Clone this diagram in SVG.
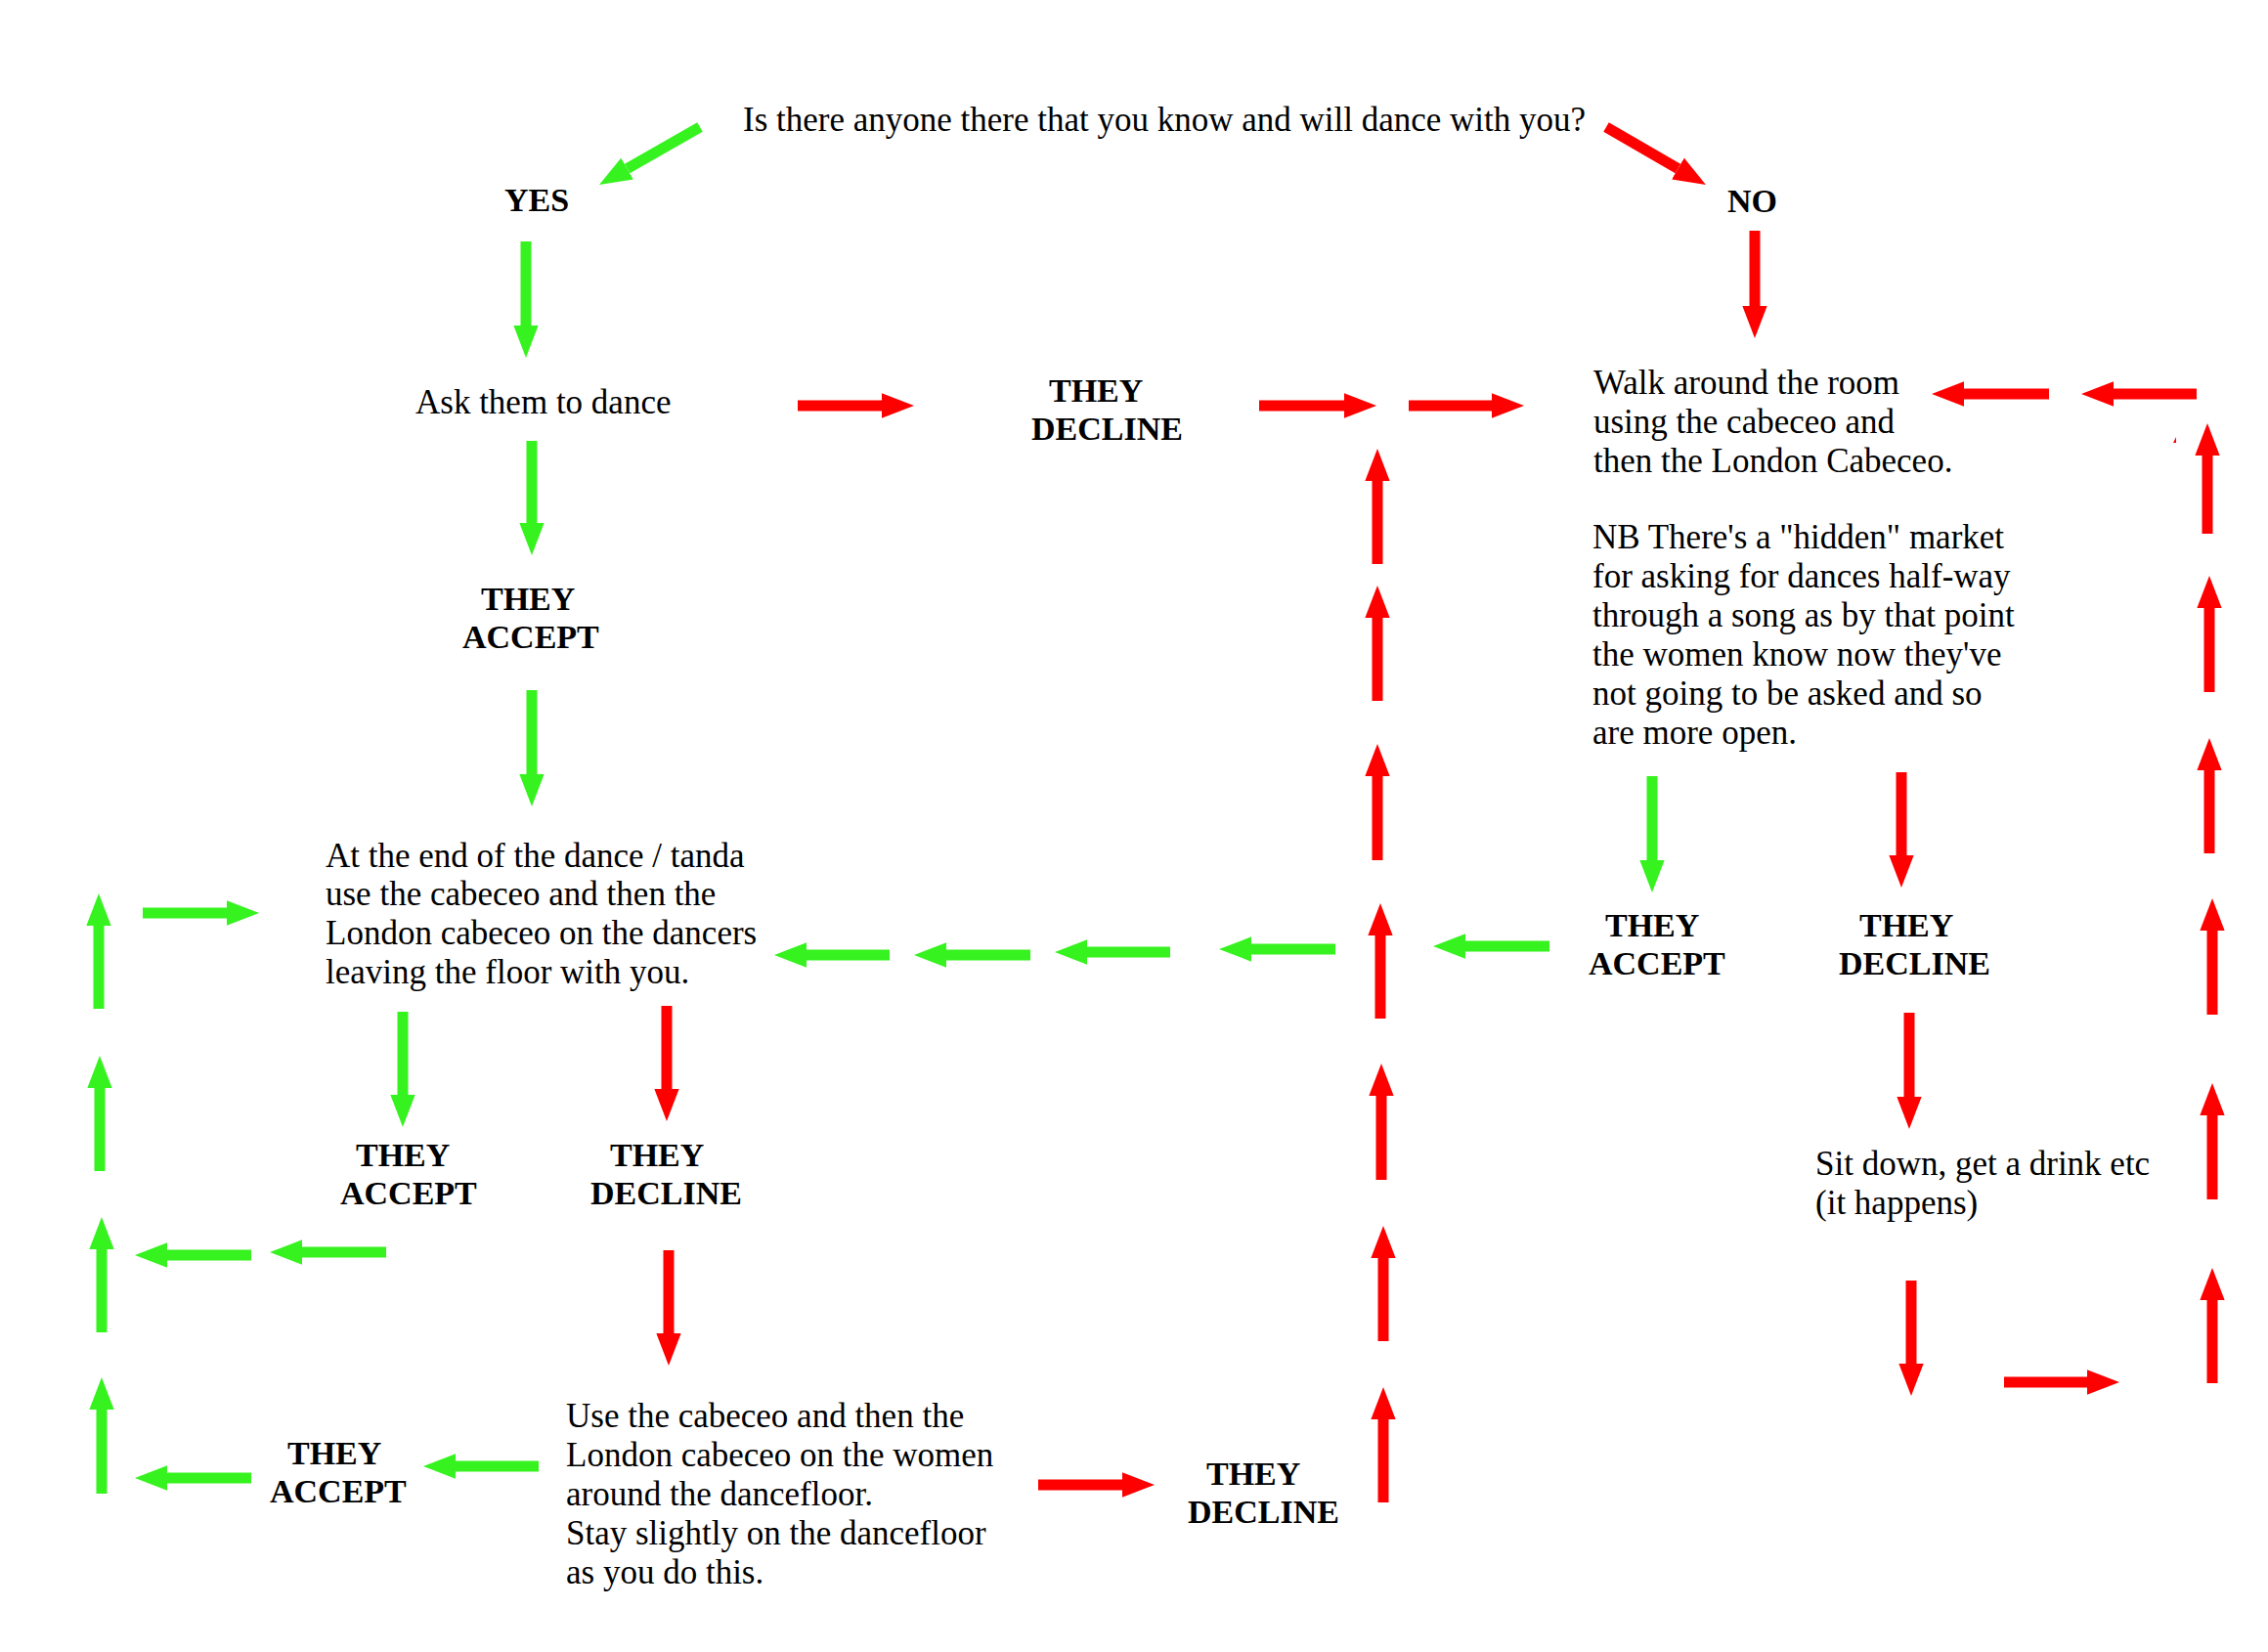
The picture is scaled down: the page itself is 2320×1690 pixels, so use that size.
<svg xmlns="http://www.w3.org/2000/svg" width="2320" height="1690" viewBox="0 0 2320 1690">
<style>
text{font-family:"Liberation Serif","Times New Roman",serif;fill:#000}
.r{font-size:35px}
.b{font-size:34px;font-weight:bold}
.g{stroke:#36f21f;stroke-width:11;fill:none}
.d{stroke:#ff0000;stroke-width:11;fill:none}
.g{marker-end:url(#hg)}
.d{marker-end:url(#hr)}
</style>
<defs>
<marker id="hg" viewBox="0 0 3 2.3" markerWidth="3" markerHeight="2.3" refX="0" refY="1.15" orient="auto" markerUnits="strokeWidth"><path d="M0,0L3,1.15L0,2.3z" fill="#36f21f"/></marker>
<marker id="hr" viewBox="0 0 3 2.3" markerWidth="3" markerHeight="2.3" refX="0" refY="1.15" orient="auto" markerUnits="strokeWidth"><path d="M0,0L3,1.15L0,2.3z" fill="#ff0000"/></marker>
</defs>
<rect width="2320" height="1690" fill="#fff"/>
<g id="connectors">
<line class="g" x1="716" y1="130" x2="641.6" y2="172.6"/>
<line class="g" x1="538" y1="247" x2="538" y2="333"/>
<line class="g" x1="544" y1="451" x2="544" y2="535"/>
<line class="g" x1="544" y1="706" x2="544" y2="792"/>
<line class="g" x1="1585" y1="968" x2="1499" y2="968"/>
<line class="g" x1="1366" y1="971" x2="1280" y2="971"/>
<line class="g" x1="1197" y1="974" x2="1112" y2="974"/>
<line class="g" x1="1054" y1="977" x2="968" y2="977"/>
<line class="g" x1="910" y1="977" x2="825" y2="977"/>
<line class="g" x1="101" y1="1032" x2="101" y2="947"/>
<line class="g" x1="146" y1="934" x2="232" y2="934"/>
<line class="g" x1="102" y1="1198" x2="102" y2="1113"/>
<line class="g" x1="104" y1="1363" x2="104" y2="1278"/>
<line class="g" x1="257" y1="1284" x2="171" y2="1284"/>
<line class="g" x1="395" y1="1281" x2="309" y2="1281"/>
<line class="g" x1="104" y1="1528" x2="104" y2="1442"/>
<line class="g" x1="257" y1="1512" x2="171" y2="1512"/>
<line class="g" x1="551" y1="1500" x2="466" y2="1500"/>
<line class="g" x1="412" y1="1035" x2="412" y2="1120"/>
<line class="g" x1="1690" y1="794" x2="1690" y2="880"/>
<line class="d" x1="1643" y1="130" x2="1716.4" y2="172.5"/>
<line class="d" x1="1795" y1="236" x2="1795" y2="313"/>
<line class="d" x1="816" y1="415" x2="902" y2="415"/>
<line class="d" x1="1288" y1="415" x2="1375" y2="415"/>
<line class="d" x1="1441" y1="415" x2="1526" y2="415"/>
<line class="d" x1="2096" y1="403" x2="2009" y2="403"/>
<line class="d" x1="2247" y1="403" x2="2162" y2="403"/>
<line class="d" x1="2258" y1="546" x2="2258" y2="466"/>
<line class="d" x1="2260" y1="708" x2="2260" y2="622"/>
<line class="d" x1="2260" y1="873" x2="2260" y2="788"/>
<line class="d" x1="2263" y1="1038" x2="2263" y2="952"/>
<line class="d" x1="2263" y1="1227" x2="2263" y2="1141"/>
<line class="d" x1="2263" y1="1415" x2="2263" y2="1330"/>
<line class="d" x1="2050" y1="1414" x2="2135" y2="1414"/>
<line class="d" x1="1955" y1="1310" x2="1955" y2="1395"/>
<line class="d" x1="1953" y1="1036" x2="1953" y2="1122"/>
<line class="d" x1="1945" y1="790" x2="1945" y2="875"/>
<line class="d" x1="682" y1="1029" x2="682" y2="1114"/>
<line class="d" x1="684" y1="1279" x2="684" y2="1364"/>
<line class="d" x1="1062" y1="1519" x2="1148" y2="1519"/>
<line class="d" x1="1409" y1="577" x2="1409" y2="492"/>
<line class="d" x1="1409" y1="717" x2="1409" y2="632"/>
<line class="d" x1="1409" y1="880" x2="1409" y2="794"/>
<line class="d" x1="1412" y1="1042" x2="1412" y2="957"/>
<line class="d" x1="1413" y1="1207" x2="1413" y2="1121"/>
<line class="d" x1="1415" y1="1372" x2="1415" y2="1287"/>
<line class="d" x1="1415" y1="1537" x2="1415" y2="1452"/>
<path d="M2223,453L2226,447L2226,453z" fill="#ff0000"/>
</g>
<g id="question"><text class="r" x="760" y="134">Is there anyone there that you know and will dance with you?</text></g>
<g id="yes"><text class="b" x="516" y="216">YES</text></g>
<g id="no"><text class="b" x="1767" y="217">NO</text></g>
<g id="ask"><text class="r" x="425" y="423">Ask them to dance</text></g>
<g id="decline1"><text class="b" x="1073" y="411">THEY</text><text class="b" x="1055" y="450">DECLINE</text></g>
<g id="accept1"><text class="b" x="492" y="624">THEY</text><text class="b" x="473" y="663">ACCEPT</text></g>
<g id="walk"><text class="r" x="1630" y="403">Walk around the room</text><text class="r" x="1630" y="443">using the cabeceo and</text><text class="r" x="1630" y="483">then the London Cabeceo.</text></g>
<g id="nb"><text class="r" x="1629" y="561">NB There's a "hidden" market</text><text class="r" x="1629" y="601">for asking for dances half-way</text><text class="r" x="1629" y="641">through a song as by that point</text><text class="r" x="1629" y="681">the women know now they've</text><text class="r" x="1629" y="721">not going to be asked and so</text><text class="r" x="1629" y="761">are more open.</text></g>
<g id="accept2"><text class="b" x="1642" y="958">THEY</text><text class="b" x="1625" y="997">ACCEPT</text></g>
<g id="decline2"><text class="b" x="1902" y="958">THEY</text><text class="b" x="1881" y="997">DECLINE</text></g>
<g id="endtanda"><text class="r" x="333" y="887">At the end of the dance / tanda</text><text class="r" x="333" y="926">use the cabeceo and then the</text><text class="r" x="333" y="966">London cabeceo on the dancers</text><text class="r" x="333" y="1006">leaving the floor with you.</text></g>
<g id="accept3"><text class="b" x="364" y="1193">THEY</text><text class="b" x="348" y="1232">ACCEPT</text></g>
<g id="decline3"><text class="b" x="624" y="1193">THEY</text><text class="b" x="604" y="1232">DECLINE</text></g>
<g id="accept4"><text class="b" x="294" y="1498">THEY</text><text class="b" x="276" y="1537">ACCEPT</text></g>
<g id="usecabeceo"><text class="r" x="579" y="1460">Use the cabeceo and then the</text><text class="r" x="579" y="1500">London cabeceo on the women</text><text class="r" x="579" y="1540">around the dancefloor.</text><text class="r" x="579" y="1580">Stay slightly on the dancefloor</text><text class="r" x="579" y="1620">as you do this.</text></g>
<g id="decline4"><text class="b" x="1234" y="1519">THEY</text><text class="b" x="1215" y="1558">DECLINE</text></g>
<g id="sitdown"><text class="r" x="1857" y="1202">Sit down, get a drink etc</text><text class="r" x="1857" y="1242">(it happens)</text></g>
</svg>
